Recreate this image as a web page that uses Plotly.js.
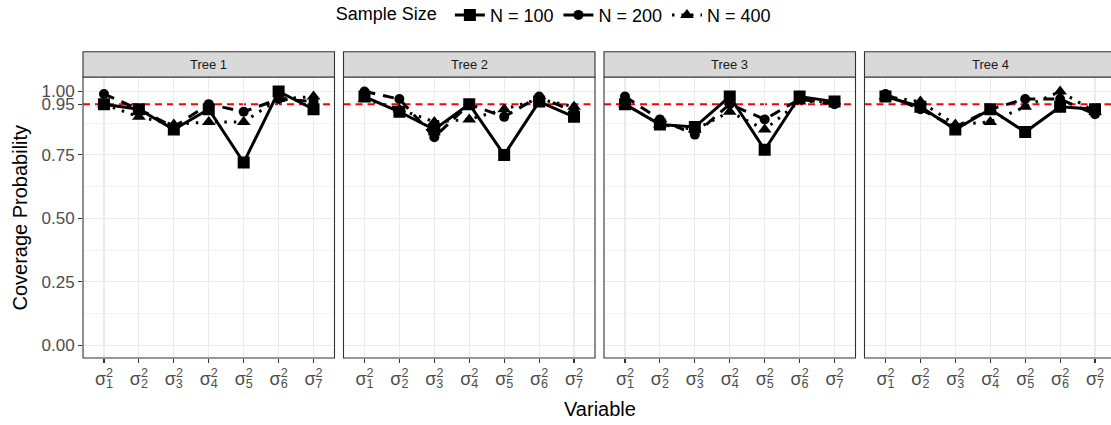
<!DOCTYPE html>
<html>
<head>
<meta charset="utf-8">
<script src="https://cdn.plot.ly/plotly-3.0.1.min.js"></script>
<style>
html,body{margin:0;padding:0;overflow:hidden;background:#fff;}
#chart{width:1124px;height:425px;}
</style>
</head>
<body>
<div id="chart"></div>
<script>
// ---- data ----
const variables = ['s1','s2','s3','s4','s5','s6','s7'];
const variableLabels = ['1','2','3','4','5','6','7'];
const trees = ['Tree 1','Tree 2','Tree 3','Tree 4'];
const sampleSizes = ['N = 100','N = 200','N = 400'];
const nominalLevel = 0.95;

const tree1_n100 = [0.95, 0.93, 0.85, 0.93, 0.72, 1.00, 0.93];
const tree1_n200 = [0.99, 0.93, 0.86, 0.95, 0.92, 0.97, 0.96];
const tree1_n400 = [0.95, 0.90, 0.87, 0.88, 0.88, 0.97, 0.98];

const tree2_n100 = [0.98, 0.92, 0.85, 0.95, 0.75, 0.96, 0.90];
const tree2_n200 = [1.00, 0.97, 0.82, 0.95, 0.90, 0.98, 0.92];
const tree2_n400 = [0.97, 0.93, 0.88, 0.89, 0.93, 0.97, 0.94];

const tree3_n100 = [0.95, 0.87, 0.86, 0.98, 0.77, 0.98, 0.96];
const tree3_n200 = [0.98, 0.89, 0.83, 0.95, 0.89, 0.97, 0.95];
const tree3_n400 = [0.95, 0.87, 0.85, 0.92, 0.85, 0.96, 0.96];

const tree4_n100 = [0.98, 0.94, 0.85, 0.93, 0.84, 0.94, 0.93];
const tree4_n200 = [0.99, 0.93, 0.86, 0.93, 0.97, 0.97, 0.91];
const tree4_n400 = [0.98, 0.96, 0.87, 0.88, 0.94, 1.00, 0.92];

const seriesByTree = [
  [tree1_n100, tree1_n200, tree1_n400],
  [tree2_n100, tree2_n200, tree2_n400],
  [tree3_n100, tree3_n200, tree3_n400],
  [tree4_n100, tree4_n200, tree4_n400]
];

const yTickVals = [0, 0.25, 0.5, 0.75, 1.0];
const yTickText = ['0.00','0.25','0.50','0.75','1.00'];
const yMinorVals = [0.125, 0.375, 0.625, 0.875];

// ---- styles ----
const FONT = 'Liberation Sans, Arial, Helvetica, sans-serif';
const symbols = ['square','circle','triangle-up'];
const markerSizes = [12, 10, 12];
const dashes = ['solid', '11px,8px', '2.5px,7px'];
const Y_RANGE = [-0.05, 1.057];

const tickText = variableLabels.map(k =>
  'σ<sup><span style="letter-spacing:-0.56em">2</span></sup><sub>' + k + '</sub>');

// ---- geometry ----
const panelW = 251.6, gap = 9;
const totalW = panelW * 4 + gap * 3;
const leftM = 83;
const traces = [];
const layout = {
  width: 1124, height: 425,
  margin: {l: leftM, r: 1124 - leftM - totalW, t: 77.3, b: 67.3, autoexpand: false},
  paper_bgcolor: '#fff', plot_bgcolor: '#fff',
  font: {family: FONT, color: '#000'},
  showlegend: true,
  legend: {
    orientation: 'h', x: (555 - leftM) / totalW, xanchor: 'center', y: 1.22, yanchor: 'middle',
    font: {family: FONT, size: 18, color: '#000'},
    title: {text: 'Sample Size ', side: 'left', font: {family: FONT, size: 18, color: '#000'}},
    itemwidth: 30, tracegroupgap: 0, traceorder: 'normal'
  },
  shapes: [], annotations: []
};

for (let t = 0; t < 4; t++) {
  const sfx = t === 0 ? '' : String(t + 1);
  const x0 = (panelW + gap) * t / totalW;
  const x1 = ((panelW + gap) * t + panelW) / totalW;
  layout['xaxis' + sfx] = {
    domain: [x0, x1], anchor: 'y' + sfx, type: 'category',
    categoryorder: 'array', categoryarray: variables,
    tickvals: variables, ticktext: tickText,
    range: [-0.6, variables.length - 0.4],
    showgrid: true, gridcolor: '#EBEBEB', gridwidth: 1.1,
    zeroline: false, showline: false,
    ticks: 'outside', ticklen: 4, tickwidth: 1.1, tickcolor: '#333333',
    tickfont: {family: FONT, size: 18, color: '#4D4D4D'},
    fixedrange: true
  };
  layout['yaxis' + sfx] = {
    domain: [0, 1], anchor: 'x' + sfx,
    range: Y_RANGE,
    tickvals: yTickVals, ticktext: yTickText,
    showticklabels: t === 0,
    ticks: t === 0 ? 'outside' : '', ticklen: 4, tickwidth: 1.1, tickcolor: '#333333',
    tickfont: {family: FONT, size: 17, color: '#4D4D4D'},
    showgrid: true, gridcolor: '#EBEBEB', gridwidth: 1.1,
    minor: {tickvals: yMinorVals, showgrid: true, gridcolor: '#EBEBEB', gridwidth: 0.55, ticks: ''},
    zeroline: false, showline: false, fixedrange: true
  };
  // reference line at nominal level
  layout.shapes.push({
    type: 'line', xref: 'x' + sfx + ' domain', yref: 'y' + sfx,
    x0: 0, x1: 1, y0: nominalLevel, y1: nominalLevel,
    line: {color: '#FF0000', width: 2, dash: '7px,5px'}, layer: 'below'
  });
  // panel border
  layout.shapes.push({
    type: 'rect', xref: 'x' + sfx + ' domain', yref: 'y' + sfx + ' domain',
    x0: 0, x1: 1, y0: 0, y1: 1,
    line: {color: '#333333', width: 1.1}, fillcolor: 'rgba(0,0,0,0)', layer: 'above'
  });
  // strip
  layout.shapes.push({
    type: 'rect', xref: 'x' + sfx + ' domain', yref: 'y' + sfx + ' domain',
    x0: 0, x1: 1, y0: 1, y1: 1.09,
    line: {color: '#333333', width: 1.1}, fillcolor: '#D9D9D9', layer: 'above'
  });
  layout.annotations.push({
    text: trees[t], xref: 'x' + sfx + ' domain', yref: 'y' + sfx + ' domain',
    x: 0.5, y: 1.045, xanchor: 'center', yanchor: 'middle', showarrow: false,
    font: {family: FONT, size: 13, color: '#1A1A1A'}
  });

  // draw N=400, N=200, then N=100 on top
  for (let s = 2; s >= 0; s--) {
    traces.push({
      type: 'scatter', mode: 'lines+markers',
      x: variables, y: seriesByTree[t][s],
      xaxis: 'x' + sfx, yaxis: 'y' + sfx,
      name: sampleSizes[s], legendgroup: sampleSizes[s], legendrank: s + 1,
      showlegend: t === 0,
      line: {color: '#000000', width: 3, dash: dashes[s]},
      marker: {symbol: symbols[s], size: markerSizes[s], color: '#000000', line: {width: 0}},
      hoverinfo: 'skip'
    });
  }
}

// extra tick label for the nominal level on the first panel (no grid line, red line shows it)
layout.yaxis5 = {
  overlaying: 'y', anchor: 'x', side: 'left', range: Y_RANGE,
  tickvals: [nominalLevel], ticktext: [nominalLevel.toFixed(2)],
  ticks: 'outside', ticklen: 4, tickwidth: 1.1, tickcolor: '#333333',
  tickfont: {family: FONT, size: 17, color: '#4D4D4D'},
  showgrid: false, zeroline: false, showline: false, fixedrange: true
};
traces.push({type: 'scatter', mode: 'markers', x: [], y: [], xaxis: 'x', yaxis: 'y5',
  showlegend: false, hoverinfo: 'skip'});

layout.annotations.push({
  text: 'Variable', xref: 'paper', yref: 'paper', x: 0.5, y: -0.18,
  xanchor: 'center', yanchor: 'middle', showarrow: false,
  font: {family: FONT, size: 20, color: '#000'}
});
layout.annotations.push({
  text: 'Coverage Probability', xref: 'paper', yref: 'paper', x: -0.0619, y: 0.5,
  xanchor: 'center', yanchor: 'middle', showarrow: false, textangle: -90,
  font: {family: FONT, size: 20, color: '#000'}
});

Plotly.newPlot('chart', traces, layout, {displayModeBar: false, staticPlot: true});
</script>
</body>
</html>
